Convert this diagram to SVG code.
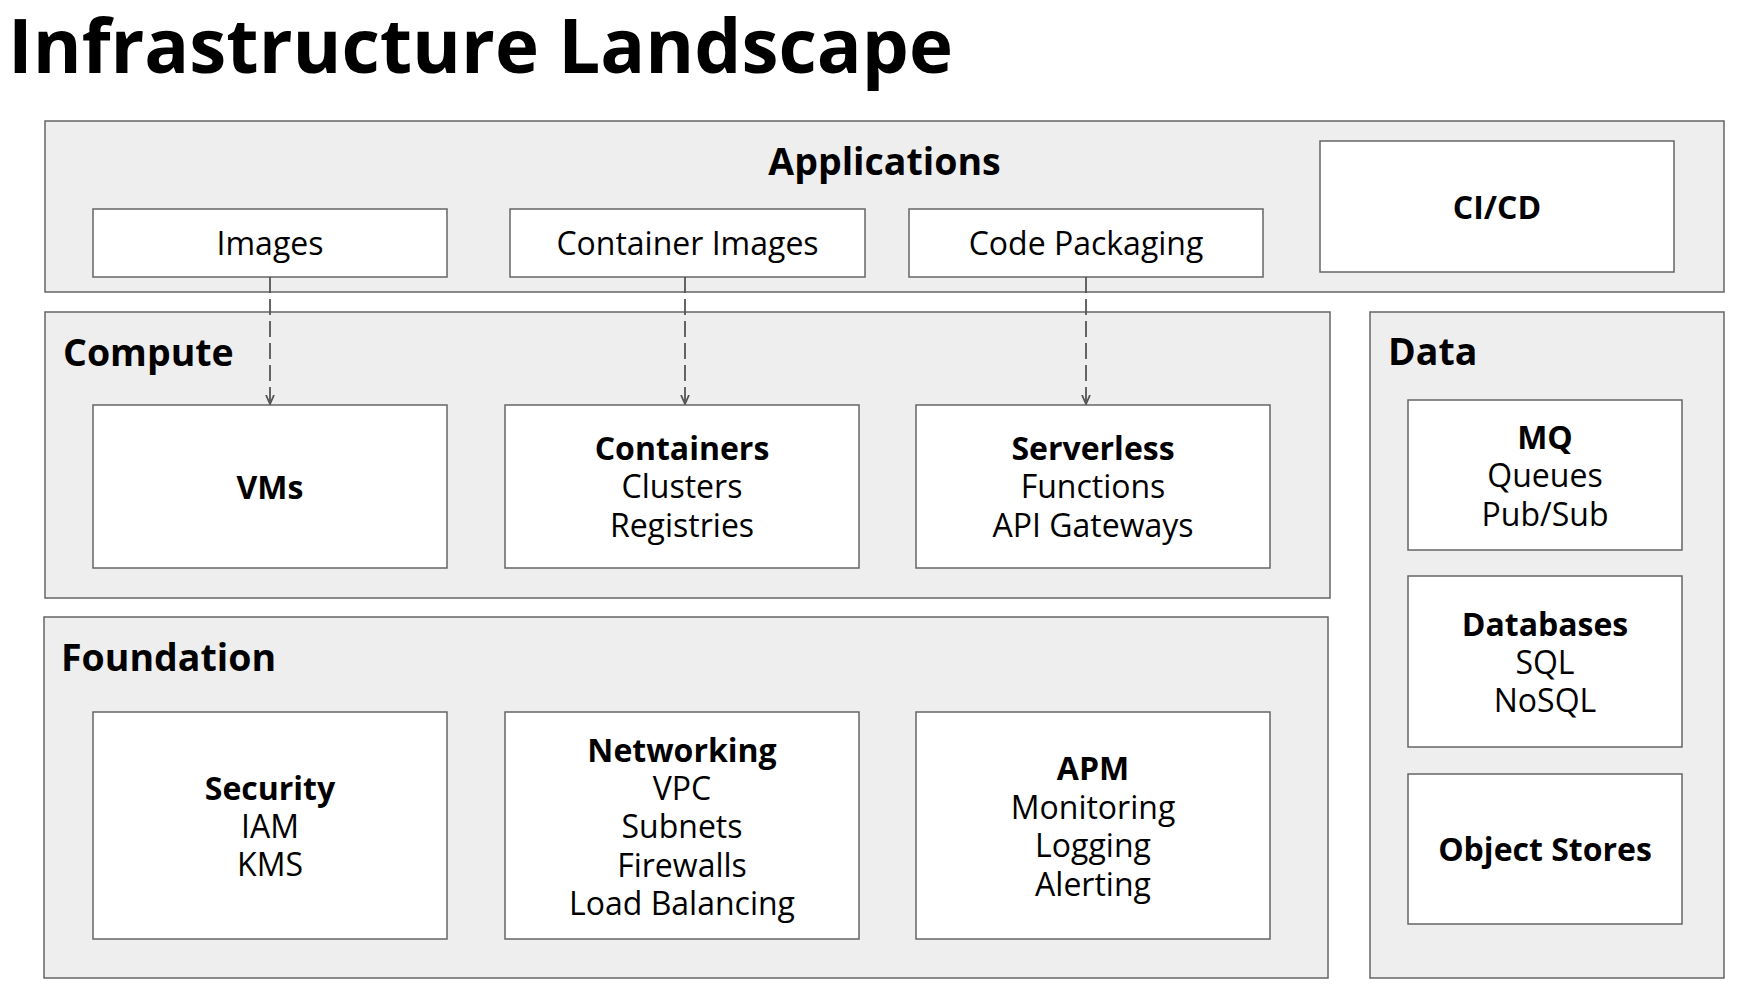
<svg xmlns="http://www.w3.org/2000/svg" width="1740" height="992" viewBox="0 0 1740 992">
<style>
  text { font-family: "Open Sans", "Liberation Sans", sans-serif; fill: #000; }
  .title { font-size: 74.5px; font-weight: 700; }
  .head { font-size: 37.5px; font-weight: 700; }
  .lbl { font-size: 32px; text-anchor: middle; }
  .b { font-weight: 700; }
  .sec { fill: #eeeeee; stroke: #666666; stroke-width: 1.5; }
  .box { fill: #ffffff; stroke: #666666; stroke-width: 1.5; }
  .conn { fill: none; stroke: #555555; stroke-width: 1.8; stroke-dasharray: 16 6; }
</style>
<defs>
  <marker id="arrow" viewBox="0 0 10 10" refX="9" refY="5" markerWidth="10" markerHeight="10" markerUnits="userSpaceOnUse" orient="auto">
    <path d="M0,1 L9,5 L0,9" fill="none" stroke="#555555" stroke-width="1.8"/>
  </marker>
</defs>
<rect width="1740" height="992" fill="#ffffff"/>
<text class="title" x="8" y="73">Infrastructure Landscape</text>

<g id="applications">
  <rect class="sec" x="45" y="121" width="1679" height="171"/>
  <text class="head" x="884.5" y="175" text-anchor="middle">Applications</text>
</g>
<g id="images">
  <rect class="box" x="93" y="209" width="354" height="68"/>
  <text class="lbl" x="270" y="255.4">Images</text>
</g>
<g id="container-images">
  <rect class="box" x="510" y="209" width="355" height="68"/>
  <text class="lbl" x="687.5" y="255.4">Container Images</text>
</g>
<g id="code-packaging">
  <rect class="box" x="909" y="209" width="354" height="68"/>
  <text class="lbl" x="1086" y="255.4">Code Packaging</text>
</g>
<g id="cicd">
  <rect class="box" x="1320" y="141" width="354" height="131"/>
  <text class="lbl b" x="1497" y="218.9">CI/CD</text>
</g>

<g id="compute">
  <rect class="sec" x="45" y="312" width="1285" height="286"/>
  <text class="head" x="63" y="366">Compute</text>
</g>
<g id="vms">
  <rect class="box" x="93" y="405" width="354" height="163"/>
  <text class="lbl b" x="270" y="498.9">VMs</text>
</g>
<g id="containers">
  <rect class="box" x="505" y="405" width="354" height="163"/>
  <text class="lbl" x="682"><tspan class="b" x="682" y="460">Containers</tspan><tspan x="682" y="498.4">Clusters</tspan><tspan x="682" y="536.8">Registries</tspan></text>
</g>
<g id="serverless">
  <rect class="box" x="916" y="405" width="354" height="163"/>
  <text class="lbl" x="1093"><tspan class="b" x="1093" y="460">Serverless</tspan><tspan x="1093" y="498.4">Functions</tspan><tspan x="1093" y="536.8">API Gateways</tspan></text>
</g>

<g id="foundation">
  <rect class="sec" x="44" y="617" width="1284" height="361"/>
  <text class="head" x="61" y="671">Foundation</text>
</g>
<g id="security">
  <rect class="box" x="93" y="712" width="354" height="227"/>
  <text class="lbl" x="270"><tspan class="b" x="270" y="799.5">Security</tspan><tspan x="270" y="837.9">IAM</tspan><tspan x="270" y="876.3">KMS</tspan></text>
</g>
<g id="networking">
  <rect class="box" x="505" y="712" width="354" height="227"/>
  <text class="lbl" x="682"><tspan class="b" x="682" y="761.6">Networking</tspan><tspan x="682" y="800">VPC</tspan><tspan x="682" y="838.4">Subnets</tspan><tspan x="682" y="876.8">Firewalls</tspan><tspan x="682" y="915.2">Load Balancing</tspan></text>
</g>
<g id="apm">
  <rect class="box" x="916" y="712" width="354" height="227"/>
  <text class="lbl" x="1093"><tspan class="b" x="1093" y="780.3">APM</tspan><tspan x="1093" y="818.7">Monitoring</tspan><tspan x="1093" y="857.1">Logging</tspan><tspan x="1093" y="895.5">Alerting</tspan></text>
</g>

<g id="data">
  <rect class="sec" x="1370" y="312" width="354" height="666"/>
  <text class="head" x="1388" y="365">Data</text>
</g>
<g id="mq">
  <rect class="box" x="1408" y="400" width="274" height="150"/>
  <text class="lbl" x="1545"><tspan class="b" x="1545" y="449">MQ</tspan><tspan x="1545" y="487.4">Queues</tspan><tspan x="1545" y="525.8">Pub/Sub</tspan></text>
</g>
<g id="databases">
  <rect class="box" x="1408" y="576" width="274" height="171"/>
  <text class="lbl" x="1545"><tspan class="b" x="1545" y="635.5">Databases</tspan><tspan x="1545" y="673.9">SQL</tspan><tspan x="1545" y="712.3">NoSQL</tspan></text>
</g>
<g id="object-stores">
  <rect class="box" x="1408" y="774" width="274" height="150"/>
  <text class="lbl b" x="1545" y="861.4">Object Stores</text>
</g>

<g id="connectors">
  <path class="conn" d="M270,277 L270,404" marker-end="url(#arrow)"/>
  <path class="conn" d="M685,277 L685,404" marker-end="url(#arrow)"/>
  <path class="conn" d="M1086,277 L1086,404" marker-end="url(#arrow)"/>
</g>
</svg>
